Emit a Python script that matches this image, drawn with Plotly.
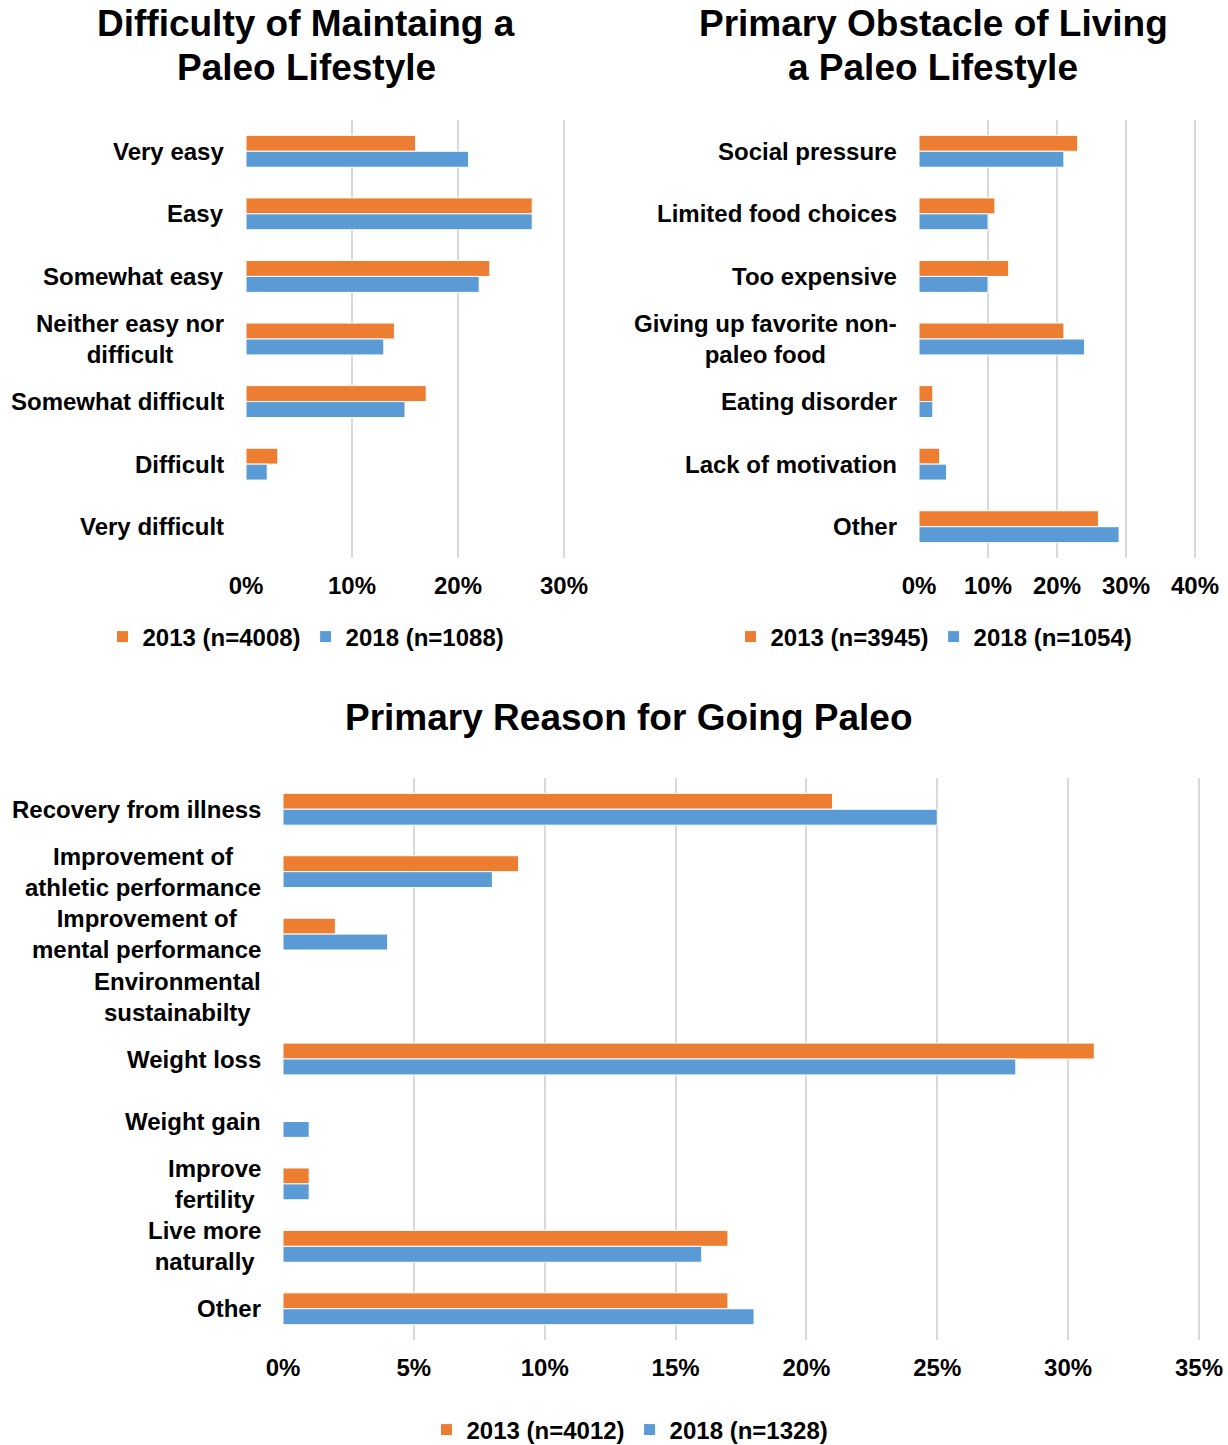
import plotly.graph_objects as go

# ---------------- data ----------------
difficulty_cats = ["Very easy", "Easy", "Somewhat easy", "Neither easy nor<br>difficult",
                   "Somewhat difficult", "Difficult", "Very difficult"]
difficulty_2013 = [16, 27, 23, 14, 17, 3, 0]
difficulty_2018 = [21, 27, 22, 13, 15, 2, 0]

obstacle_cats = ["Social pressure", "Limited food choices", "Too expensive",
                 "Giving up favorite non-<br>paleo food", "Eating disorder",
                 "Lack of motivation", "Other"]
obstacle_2013 = [23, 11, 13, 21, 2, 3, 26]
obstacle_2018 = [21, 10, 10, 24, 2, 4, 29]

reason_cats = ["Recovery from illness", "Improvement of<br>athletic performance",
               "Improvement of<br>mental performance", "Environmental<br>sustainabilty",
               "Weight loss", "Weight gain", "Improve<br>fertility",
               "Live more<br>naturally", "Other"]
reason_2013 = [21, 9, 2, 0, 31, 0, 1, 17, 17]
reason_2018 = [25, 8, 4, 0, 28, 1, 1, 16, 18]

legend_names = {
    "legend": ["2013 (n=4008)", "2018 (n=1088)"],
    "legend2": ["2013 (n=3945)", "2018 (n=1054)"],
    "legend3": ["2013 (n=4012)", "2018 (n=1328)"],
}

titles = {
    "t1": ["Difficulty of Maintaing a", "Paleo Lifestyle"],
    "t2": ["Primary Obstacle of Living", "a Paleo Lifestyle"],
    "t3": ["Primary Reason for Going Paleo"],
}

# ---------------- styling ----------------
W, H = 1228, 1445
ORANGE = "#ED7D31"
BLUE = "#5B9BD5"
GRID = "#D9D9D9"
FONT = "Liberation Sans, Arial, sans-serif"

def px_x(p):
    return p / W

def px_y(p):
    return 1 - p / H

fig = go.Figure()

panels = [
    # cats, s2013, s2018, xaxis, yaxis, legend, xmax, dtick, xdom(px), ydom(px)
    (difficulty_cats, difficulty_2013, difficulty_2018, "x", "y", "legend", 30, 10, (246, 564), (120, 558)),
    (obstacle_cats, obstacle_2013, obstacle_2018, "x2", "y2", "legend2", 40, 10, (919, 1195), (120, 558)),
    (reason_cats, reason_2013, reason_2018, "x3", "y3", "legend3", 35, 5, (283, 1199), (778, 1340)),
]

for cats, a, b, xa, ya, lg, xmax, dt, xd, yd in panels:
    names = legend_names[lg]
    fig.add_trace(go.Bar(y=cats, x=a, orientation="h", name=names[0],
                         marker=dict(color=ORANGE, line=dict(color="white", width=1)),
                         xaxis=xa, yaxis=ya, legend=lg))
    fig.add_trace(go.Bar(y=cats, x=b, orientation="h", name=names[1],
                         marker=dict(color=BLUE, line=dict(color="white", width=1)),
                         xaxis=xa, yaxis=ya, legend=lg))
    xkey = "xaxis" + xa[1:]
    ykey = "yaxis" + ya[1:]
    # tiny extension so the gridline at the last tick is kept
    ext = xmax * 0.004
    xd1 = xd[1] + (xd[1] - xd[0]) * 0.004
    fig.layout[xkey] = dict(domain=[px_x(xd[0]), px_x(xd1)], anchor=ya,
                            range=[0, xmax + ext], dtick=dt, tick0=0, ticksuffix="%",
                            showgrid=True, gridcolor=GRID, gridwidth=2,
                            zeroline=False, showline=False, ticks="",
                            ticklabelstandoff=11,
                            tickfont=dict(family=FONT, size=24, color="#000", weight="bold"),
                            fixedrange=True)
    fig.layout[ykey] = dict(domain=[px_y(yd[1]), px_y(yd[0])], anchor=xa,
                            autorange="reversed", showticklabels=False,
                            showgrid=False, zeroline=False, showline=False, ticks="",
                            type="category", fixedrange=True)
    # category labels (centered multi-line, like Excel)
    for c in cats:
        fig.add_annotation(x=px_x(xd[0]), xref="paper", y=c, yref=ya,
                           text=c, showarrow=False, xanchor="right", yanchor="middle",
                           xshift=-20, align="center",
                           font=dict(family=FONT, size=24, color="#000", weight="bold"))

# titles
title_pos = {"t1": (306, [23, 67]), "t2": (933, [23, 67]), "t3": (628, [717])}
for k, lines in titles.items():
    cx, ys = title_pos[k]
    for line, yy in zip(lines, ys):
        fig.add_annotation(x=px_x(cx), y=px_y(yy), xref="paper", yref="paper",
                           text=line, showarrow=False, xanchor="center", yanchor="middle",
                           font=dict(family=FONT, size=37, color="#000", weight="bold"))

legend_style = dict(orientation="h", xanchor="center", yanchor="middle",
                    font=dict(family=FONT, size=24, color="#000", weight="bold"),
                    bgcolor="rgba(0,0,0,0)", itemclick=False, itemdoubleclick=False,
                    traceorder="normal", itemwidth=30)
fig.update_layout(
    width=W, height=H,
    margin=dict(l=0, r=0, t=0, b=0, autoexpand=False),
    paper_bgcolor="white", plot_bgcolor="white",
    barmode="group", bargap=0.49, bargroupgap=0,
    showlegend=True,
    legend=dict(x=px_x(306), y=px_y(637), **legend_style),
    legend2=dict(x=px_x(934), y=px_y(637), **legend_style),
    legend3=dict(x=px_x(630), y=px_y(1430), **legend_style),
)

fig.write_html("out.html",
               config={"displayModeBar": False, "staticPlot": False},
               post_script="document.body.style.margin='0';document.body.style.padding='0';")
